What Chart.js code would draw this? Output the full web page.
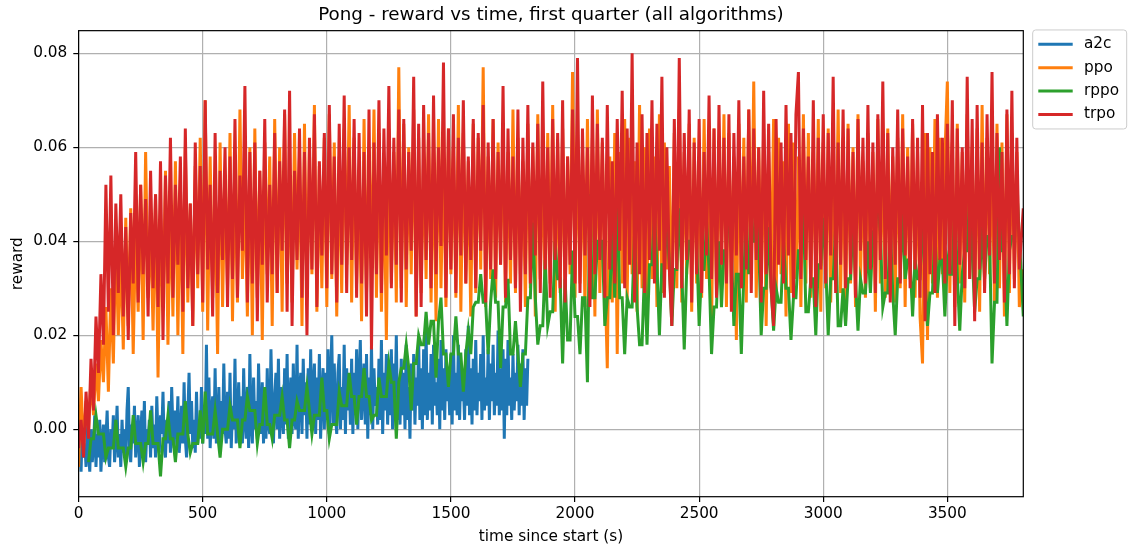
<!DOCTYPE html>
<html>
<head>
<meta charset="utf-8">
<script src="https://cdn.jsdelivr.net/npm/chart.js@4.4.1/dist/chart.umd.min.js"></script>
<style>
  html, body { margin: 0; padding: 0; background: #ffffff; }
  #wrap { width: 1133px; height: 548px; position: relative; }
</style>
</head>
<body>
<div id="wrap"><canvas id="chart"></canvas></div>
<script>
// Sample times (seconds since start) for the ppo, rppo and trpo runs
const timeSec = [
  0,10,20,30,40,50,60,70,80,90,100,110,120,130,140,150,160,170,180,190,
  200,210,220,230,240,250,260,270,280,290,300,310,320,330,340,350,360,370,380,390,
  400,410,420,430,440,450,460,470,480,490,500,510,520,530,540,550,560,570,580,590,
  600,610,620,630,640,650,660,670,680,690,700,710,720,730,740,750,760,770,780,790,
  800,810,820,830,840,850,860,870,880,890,900,910,920,930,940,950,960,970,980,990,
  1000,1010,1020,1030,1040,1050,1060,1070,1080,1090,1100,1110,1120,1130,1140,1150,1160,1170,1180,1190,
  1200,1210,1220,1230,1240,1250,1260,1270,1280,1290,1300,1310,1320,1330,1340,1350,1360,1370,1380,1390,
  1400,1410,1420,1430,1440,1450,1460,1470,1480,1490,1500,1510,1520,1530,1540,1550,1560,1570,1580,1590,
  1600,1610,1620,1630,1640,1650,1660,1670,1680,1690,1700,1710,1720,1730,1740,1750,1760,1770,1780,1790,
  1800,1810,1820,1830,1840,1850,1860,1870,1880,1890,1900,1910,1920,1930,1940,1950,1960,1970,1980,1990,
  2000,2010,2020,2030,2040,2050,2060,2070,2080,2090,2100,2110,2120,2130,2140,2150,2160,2170,2180,2190,
  2200,2210,2220,2230,2240,2250,2260,2270,2280,2290,2300,2310,2320,2330,2340,2350,2360,2370,2380,2390,
  2400,2410,2420,2430,2440,2450,2460,2470,2480,2490,2500,2510,2520,2530,2540,2550,2560,2570,2580,2590,
  2600,2610,2620,2630,2640,2650,2660,2670,2680,2690,2700,2710,2720,2730,2740,2750,2760,2770,2780,2790,
  2800,2810,2820,2830,2840,2850,2860,2870,2880,2890,2900,2910,2920,2930,2940,2950,2960,2970,2980,2990,
  3000,3010,3020,3030,3040,3050,3060,3070,3080,3090,3100,3110,3120,3130,3140,3150,3160,3170,3180,3190,
  3200,3210,3220,3230,3240,3250,3260,3270,3280,3290,3300,3310,3320,3330,3340,3350,3360,3370,3380,3390,
  3400,3410,3420,3430,3440,3450,3460,3470,3480,3490,3500,3510,3520,3530,3540,3550,3560,3570,3580,3590,
  3600,3610,3620,3630,3640,3650,3660,3670,3680,3690,3700,3710,3720,3730,3740,3750,3760,3770,3780,3790,
  3806
];

// Sample times (seconds since start) for the a2c run, logged more often and stopped at 1810 s
const a2cTimeSec = [
  0,5,10,15,20,25,30,35,40,45,50,55,60,65,70,75,80,85,90,95,
  100,105,110,115,120,125,130,135,140,145,150,155,160,165,170,175,180,185,190,195,
  200,205,210,215,220,225,230,235,240,245,250,255,260,265,270,275,280,285,290,295,
  300,305,310,315,320,325,330,335,340,345,350,355,360,365,370,375,380,385,390,395,
  400,405,410,415,420,425,430,435,440,445,450,455,460,465,470,475,480,485,490,495,
  500,505,510,515,520,525,530,535,540,545,550,555,560,565,570,575,580,585,590,595,
  600,605,610,615,620,625,630,635,640,645,650,655,660,665,670,675,680,685,690,695,
  700,705,710,715,720,725,730,735,740,745,750,755,760,765,770,775,780,785,790,795,
  800,805,810,815,820,825,830,835,840,845,850,855,860,865,870,875,880,885,890,895,
  900,905,910,915,920,925,930,935,940,945,950,955,960,965,970,975,980,985,990,995,
  1000,1005,1010,1015,1020,1025,1030,1035,1040,1045,1050,1055,1060,1065,1070,1075,1080,1085,1090,1095,
  1100,1105,1110,1115,1120,1125,1130,1135,1140,1145,1150,1155,1160,1165,1170,1175,1180,1185,1190,1195,
  1200,1205,1210,1215,1220,1225,1230,1235,1240,1245,1250,1255,1260,1265,1270,1275,1280,1285,1290,1295,
  1300,1305,1310,1315,1320,1325,1330,1335,1340,1345,1350,1355,1360,1365,1370,1375,1380,1385,1390,1395,
  1400,1405,1410,1415,1420,1425,1430,1435,1440,1445,1450,1455,1460,1465,1470,1475,1480,1485,1490,1495,
  1500,1505,1510,1515,1520,1525,1530,1535,1540,1545,1550,1555,1560,1565,1570,1575,1580,1585,1590,1595,
  1600,1605,1610,1615,1620,1625,1630,1635,1640,1645,1650,1655,1660,1665,1670,1675,1680,1685,1690,1695,
  1700,1705,1710,1715,1720,1725,1730,1735,1740,1745,1750,1755,1760,1765,1770,1775,1780,1785,1790,1795,
  1800,1805,1810
];

// a2c reward
const a2cReward = [
  -0.008,-0.002,-0.009,0.001,-0.006,-0.003,-0.008,0.002,-0.005,-0.009,
  0,-0.007,-0.004,0.003,-0.008,-0.001,-0.006,0.002,-0.009,-0.003,
  0.001,-0.007,-0.002,0.004,-0.006,-0.008,0,-0.004,0.003,-0.007,
  -0.002,0.005,-0.006,-0.001,-0.008,0.002,-0.005,0,-0.007,0.004,
  0.009,-0.004,-0.007,0.001,-0.003,0.005,-0.006,-0.002,0.003,-0.008,
  -0.001,0.004,-0.005,0.006,-0.007,0,-0.003,0.002,-0.006,0.005,
  -0.004,0.001,-0.006,0.007,-0.002,-0.005,0.003,-0.001,0.008,-0.004,
  -0.006,0.002,-0.003,0.006,-0.005,0.009,0,-0.004,0.004,-0.002,
  0.007,-0.005,-0.001,0.005,-0.003,0.01,-0.002,-0.006,0.003,0.012,
  -0.001,0.006,-0.004,0.002,-0.005,0.008,-0.003,0.001,-0.002,0.009,
  -0.003,0.005,-0.001,0.018,-0.002,0.011,-0.004,0.003,0.007,-0.002,
  0.013,-0.003,0.001,0.009,-0.004,0.006,-0.001,0.014,0,-0.003,
  0.008,-0.002,0.012,-0.004,0.005,0,0.015,-0.003,0.003,0.01,
  -0.001,0.007,-0.003,0.013,0.002,-0.002,0.009,-0.004,0.016,0.001,
  -0.003,0.011,0,0.006,-0.002,0.014,0.003,-0.001,0.01,-0.003,
  0.008,-0.002,0.013,0.001,-0.001,0.017,0.004,-0.003,0.007,0.012,
  0,0.015,-0.002,0.009,0.003,-0.001,0.013,0.001,0.016,-0.002,
  0.006,0.011,-0.001,0.014,0.002,0,0.018,-0.002,0.008,0.012,
  -0.001,0.015,0.003,0.01,-0.002,0.013,0.001,0.017,0,0.009,
  0.014,-0.001,0.011,0.002,0.016,-0.002,0.007,0.013,0,0.012,
  0.002,0.017,-0.001,0.01,0.02,0.001,0.014,0.003,-0.001,0.012,
  0.016,0,0.009,0.002,0.018,-0.001,0.013,0.004,0.011,0.001,
  0.015,-0.001,0.012,0.003,0.017,0,0.01,0.019,0.002,0.008,
  0.014,0.001,0.016,-0.002,0.011,0.003,0.018,0,0.013,0.005,
  0.009,0.001,0.015,0.002,0.019,-0.001,0.012,0.004,0.016,0.001,
  0.011,0.003,0.017,0,0.014,0.005,0.02,0.002,0.01,0.001,
  0.015,0.003,0.012,0,0.018,0.002,0.009,-0.002,0.014,0.004,
  0.016,0.001,0.011,0.005,0.019,0.002,0.013,0,0.017,0.003,
  0.021,0.002,0.012,0.004,0.016,0.001,0.018,0.005,0.01,0.003,
  0.015,0,0.019,0.004,0.013,0.002,0.017,0.006,0.011,0.003,
  0.016,0.001,0.02,0.004,0.012,0.003,0.018,0.002,0.014,0.006,
  0.01,0.002,0.017,0.005,0.022,0.003,0.013,0.001,0.015,0.004,
  0.019,0.003,0.012,0.006,0.016,0.002,0.02,0.004,0.011,0.005,
  0.017,0.002,0.014,0.006,0.018,0.003,0.012,0.005,0.021,0.003,
  0.013,0.004,0.017,-0.002,0.015,0.003,0.019,0.005,0.011,0.002,
  0.016,0.004,0.012,0.006,0.018,0.003,0.014,0.005,0.017,0.002,
  0.013,0.005,0.015
];

// ppo reward
const ppoReward = [
  -0.008,0.009,-0.004,0.006,0,0.011,0.003,0.014,0.006,0.019,
  0.01,0.026,0.008,0.03,0.014,0.041,0.02,0.038,0.017,0.045,
  0.022,0.047,0.016,0.043,0.025,0.052,0.019,0.059,0.028,0.044,
  0.021,0.05,0.011,0.046,0.026,0.055,0.018,0.049,0.024,0.057,
  0.02,0.053,0.016,0.06,0.027,0.048,0.022,0.056,0.03,0.062,
  0.025,0.07,0.021,0.058,0.028,0.05,0.016,0.061,0.026,0.054,
  0.03,0.063,0.023,0.057,0.027,0.068,0.032,0.052,0.024,0.06,
  0.02,0.064,0.028,0.055,0.019,0.061,0.033,0.058,0.022,0.066,
  0.029,0.06,0.025,0.067,0.031,0.054,0.027,0.063,0.034,0.058,
  0.022,0.065,0.028,0.059,0.033,0.069,0.025,0.056,0.03,0.062,
  0.026,0.067,0.032,0.061,0.024,0.058,0.029,0.064,0.035,0.069,
  0.027,0.062,0.031,0.055,0.023,0.066,0.029,0.06,0.034,0.068,
  0.028,0.063,0.025,0.057,0.019,0.064,0.031,0.059,0.027,0.077,
  0.03,0.065,0.026,0.06,0.033,0.068,0.024,0.062,0.029,0.058,
  0.032,0.067,0.027,0.061,0.023,0.066,0.03,0.059,0.026,0.064,
  0.033,0.06,0.028,0.069,0.025,0.063,0.031,0.057,0.024,0.065,
  0.029,0.062,0.034,0.077,0.026,0.058,0.032,0.066,0.028,0.061,
  0.035,0.064,0.027,0.059,0.031,0.068,0.029,0.062,0.033,0.057,
  0.026,0.065,0.03,0.06,0.024,0.067,0.032,0.058,0.028,0.063,
  0.031,0.069,0.025,0.061,0.029,0.064,0.027,0.058,0.033,0.076,
  0.028,0.063,0.031,0.059,0.026,0.066,0.03,0.062,0.024,0.068,
  0.029,0.061,0.034,0.013,0.058,0.027,0.063,0.016,0.059,0.031,
  0.066,0.028,0.062,0.033,0.057,0.025,0.069,0.03,0.06,0.027,
  0.064,0.032,0.058,0.026,0.067,0.029,0.061,0.034,0.056,0.024,
  0.063,0.03,0.068,0.027,0.059,0.033,0.065,0.025,0.062,0.031,
  0.058,0.028,0.066,0.032,0.061,0.022,0.064,0.029,0.06,0.034,
  0.067,0.026,0.063,0.031,0.058,0.019,0.065,0.03,0.062,0.027,
  0.068,0.033,0.074,0.028,0.06,0.031,0.064,0.022,0.059,0.03,
  0.066,0.027,0.062,0.033,0.057,0.024,0.065,0.029,0.061,0.032,
  0.058,0.026,0.067,0.031,0.063,0.028,0.059,0.034,0.066,0.025,
  0.061,0.03,0.064,0.027,0.058,0.033,0.068,0.029,0.062,0.023,
  0.065,0.031,0.06,0.026,0.067,0.032,0.057,0.028,0.063,0.03,
  0.059,0.025,0.066,0.031,0.061,0.028,0.064,0.033,0.058,0.027,
  0.062,0.03,0.067,0.026,0.06,0.032,0.065,0.028,0.059,0.024,
  0.014,0.063,0.019,0.06,0.031,0.066,0.028,0.062,0.033,0.058,
  0.074,0.029,0.061,0.026,0.065,0.031,0.059,0.027,0.067,0.032,
  0.06,0.028,0.064,0.025,0.069,0.03,0.062,0.033,0.058,0.027,
  0.065,0.03,0.061,0.024,0.067,0.029,0.063,0.032,0.059,0.026,
  0.034
];

// rppo reward (first log at 40 s)
const rppoReward = [
  null,null,null,null,-0.007,-0.002,-0.002,0.003,-0.001,-0.001,
  -0.001,-0.006,-0.004,-0.004,-0.004,0.002,-0.004,-0.004,-0.004,-0.008,
  -0.004,-0.004,0.003,-0.003,-0.003,-0.003,-0.007,-0.003,-0.003,0.004,
  -0.003,-0.003,-0.003,-0.01,-0.002,-0.002,0.003,-0.002,-0.002,-0.007,
  -0.001,-0.001,-0.001,0.006,-0.001,-0.005,-0.003,-0.003,-0.003,0.004,
  -0.003,0.008,-0.001,-0.001,-0.001,0.004,-0.001,-0.006,0,0,
  0,0.005,0.002,0.002,0.002,-0.004,0.002,0.002,0.007,0.004,
  0.004,0.004,-0.003,0.001,0.001,0.009,0.001,0.001,-0.002,0.003,
  0.003,0.003,0.007,0.002,0.002,-0.004,0.002,0.002,0.006,0.004,
  0.004,0.004,0.009,0.004,-0.001,0.003,0.003,0.003,0.011,0.004,
  0.004,-0.002,0.001,0.001,0.001,0.008,0.005,0.005,0.005,0.012,
  0.007,0.007,0.001,0.007,0.007,0.013,0.007,0.007,0.002,0.003,
  0.003,0.011,0.007,0.007,0.007,0.014,0.01,0.01,-0.002,0.01,
  0.013,0.013,0.018,0.013,0.004,0.014,0.014,0.02,0.018,0.018,
  0.025,0.018,0.023,0.023,0.011,0.023,0.028,0.016,0.016,0.009,
  0.016,0.016,0.024,0.016,0.016,0.008,0.016,0.021,0.016,0.026,
  0.027,0.027,0.033,0.027,0.027,0.016,0.027,0.034,0.027,0.027,
  0.013,0.026,0.026,0.032,0.016,0.016,0.023,0.016,0.009,0.016,
  0.016,0.028,0.028,0.044,0.028,0.018,0.022,0.022,0.036,0.022,
  0.025,0.025,0.04,0.032,0.032,0.014,0.032,0.019,0.019,0.038,
  0.024,0.024,0.016,0.028,0.028,0.01,0.05,0.028,0.028,0.04,
  0.04,0.04,0.022,0.028,0.028,0.043,0.028,0.05,0.028,0.028,
  0.016,0.028,0.026,0.026,0.042,0.026,0.018,0.018,0.034,0.018,
  0.035,0.035,0.046,0.035,0.02,0.035,0.035,0.045,0.035,0.022,
  0.034,0.034,0.047,0.034,0.017,0.034,0.04,0.04,0.05,0.04,
  0.022,0.034,0.034,0.044,0.034,0.016,0.026,0.026,0.04,0.026,
  0.038,0.038,0.048,0.038,0.022,0.033,0.033,0.016,0.033,0.045,
  0.033,0.04,0.04,0.049,0.04,0.02,0.03,0.03,0.043,0.03,
  0.021,0.03,0.027,0.027,0.04,0.03,0.03,0.019,0.028,0.028,
  0.038,0.038,0.048,0.025,0.025,0.032,0.032,0.02,0.035,0.035,
  0.045,0.035,0.02,0.032,0.032,0.043,0.022,0.022,0.03,0.022,
  0.032,0.032,0.045,0.032,0.021,0.032,0.029,0.029,0.04,0.029,
  0.042,0.042,0.05,0.042,0.026,0.029,0.029,0.044,0.029,0.02,
  0.032,0.032,0.047,0.032,0.036,0.036,0.024,0.036,0.032,0.032,
  0.046,0.032,0.022,0.029,0.029,0.042,0.029,0.036,0.036,0.024,
  0.036,0.033,0.033,0.048,0.033,0.021,0.033,0.038,0.038,0.05,
  0.038,0.025,0.032,0.032,0.043,0.032,0.041,0.041,0.014,0.027,
  0.027,0.06,0.038,0.038,0.022,0.038,0.041,0.041,0.051,0.041,
  0.024
];

// trpo reward
const trpoReward = [
  -0.004,0.002,-0.006,0.008,-0.002,0.015,0.004,0.024,0.012,0.033,
  0.018,0.052,0.025,0.054,0.02,0.048,0.029,0.05,0.024,0.043,
  0.019,0.046,0.031,0.059,0.027,0.052,0.033,0.049,0.024,0.055,
  0.03,0.05,0.026,0.057,0.019,0.054,0.031,0.062,0.028,0.052,
  0.035,0.058,0.025,0.064,0.03,0.048,0.022,0.061,0.033,0.056,
  0.027,0.07,0.034,0.052,0.024,0.063,0.029,0.055,0.036,0.06,
  0.026,0.058,0.032,0.066,0.028,0.054,0.038,0.073,0.027,0.059,
  0.031,0.061,0.023,0.055,0.035,0.066,0.027,0.052,0.033,0.063,
  0.029,0.057,0.038,0.068,0.025,0.072,0.022,0.055,0.036,0.064,
  0.028,0.059,0.02,0.062,0.034,0.067,0.026,0.057,0.037,0.063,
  0.03,0.069,0.033,0.058,0.027,0.065,0.035,0.071,0.029,0.06,
  0.036,0.066,0.028,0.063,0.031,0.059,0.024,0.068,0.017,0.061,
  0.033,0.07,0.029,0.064,0.037,0.073,0.03,0.062,0.035,0.068,
  0.027,0.066,0.034,0.059,0.038,0.075,0.024,0.065,0.026,0.069,
  0.036,0.063,0.03,0.071,0.033,0.06,0.039,0.078,0.028,0.064,
  0.034,0.067,0.029,0.062,0.037,0.07,0.031,0.058,0.036,0.066,
  0.03,0.063,0.038,0.069,0.027,0.061,0.034,0.066,0.032,0.059,
  0.035,0.073,0.028,0.064,0.036,0.058,0.03,0.068,0.025,0.062,
  0.033,0.069,0.031,0.061,0.037,0.065,0.029,0.074,0.034,0.06,
  0.028,0.066,0.036,0.063,0.03,0.07,0.027,0.058,0.035,0.068,
  0.031,0.079,0.029,0.064,0.037,0.06,0.026,0.071,0.033,0.065,
  0.036,0.062,0.028,0.069,0.034,0.057,0.031,0.066,0.038,0.072,
  0.03,0.064,0.035,0.08,0.027,0.061,0.033,0.067,0.029,0.063,
  0.036,0.07,0.031,0.065,0.038,0.075,0.028,0.06,0.034,0.022,
  0.066,0.034,0.079,0.03,0.063,0.036,0.068,0.027,0.061,0.033,
  0.066,0.029,0.059,0.037,0.071,0.032,0.064,0.028,0.069,0.035,
  0.062,0.031,0.067,0.025,0.063,0.037,0.07,0.03,0.058,0.034,
  0.068,0.029,0.064,0.036,0.06,0.027,0.072,0.033,0.065,0.03,
  0.022,0.066,0.035,0.061,0.031,0.069,0.037,0.063,0.028,0.067,
  0.076,0.032,0.064,0.036,0.058,0.03,0.07,0.026,0.062,0.034,
  0.067,0.031,0.063,0.037,0.075,0.029,0.061,0.035,0.068,0.03,
  0.064,0.033,0.059,0.028,0.066,0.038,0.062,0.031,0.069,0.034,
  0.061,0.029,0.067,0.036,0.074,0.032,0.063,0.027,0.06,0.035,
  0.068,0.031,0.064,0.037,0.058,0.03,0.066,0.034,0.062,0.028,
  0.069,0.023,0.063,0.033,0.059,0.029,0.067,0.036,0.062,0.031,
  0.065,0.033,0.07,0.022,0.064,0.035,0.06,0.03,0.075,0.032,
  0.066,0.023,0.069,0.034,0.061,0.029,0.067,0.037,0.076,0.031,
  0.063,0.036,0.059,0.027,0.068,0.033,0.072,0.03,0.062,0.034,
  0.047
];

const seriesNames = ['a2c', 'ppo', 'rppo', 'trpo'];
const seriesColors = ['#1f77b4', '#ff7f0e', '#2ca02c', '#d62728'];
const xTickValues = [0, 500, 1000, 1500, 2000, 2500, 3000, 3500];
const yTickValues = [0, 0.02, 0.04, 0.06, 0.08];

const FONT = "'DejaVu Sans', 'Liberation Sans', sans-serif";
const TICK_SIZE = 15.3;

function toPoints(times, values) {
  return values
    .map((v, i) => ({ x: times[i], y: v }))
    .filter(p => p.y !== null);
}

const seriesPoints = [
  toPoints(a2cTimeSec, a2cReward),
  toPoints(timeSec, ppoReward),
  toPoints(timeSec, rppoReward),
  toPoints(timeSec, trpoReward)
];

// Later series are painted over earlier ones (trpo on top)
const datasets = seriesNames.map((name, i) => ({
  label: name,
  data: seriesPoints[i],
  borderColor: seriesColors[i],
  backgroundColor: seriesColors[i],
  borderWidth: 3,
  pointRadius: 0,
  tension: 0,
  fill: false,
  clip: 0,
  order: seriesNames.length - 1 - i
}));

// Full box around the plotting area
const axesFrame = {
  id: 'axesFrame',
  afterDatasetsDraw(chart) {
    const { ctx, chartArea: a } = chart;
    ctx.save();
    ctx.strokeStyle = '#000000';
    ctx.lineWidth = 1.2;
    ctx.strokeRect(a.left, a.top, a.right - a.left, a.bottom - a.top);
    ctx.restore();
  }
};

// Framed legend placed to the right of the plotting area
const sideLegend = {
  id: 'sideLegend',
  afterDraw(chart) {
    const { ctx, chartArea: a } = chart;
    const left = a.right + 9.4;
    const top = a.top - 0.7;
    const w = 94, h = 99, r = 3;
    ctx.save();
    ctx.beginPath();
    ctx.moveTo(left + r, top);
    ctx.lineTo(left + w - r, top);
    ctx.arcTo(left + w, top, left + w, top + r, r);
    ctx.lineTo(left + w, top + h - r);
    ctx.arcTo(left + w, top + h, left + w - r, top + h, r);
    ctx.lineTo(left + r, top + h);
    ctx.arcTo(left, top + h, left, top + h - r, r);
    ctx.lineTo(left, top + r);
    ctx.arcTo(left, top, left + r, top, r);
    ctx.closePath();
    ctx.fillStyle = 'rgba(255,255,255,0.8)';
    ctx.fill();
    ctx.strokeStyle = '#cccccc';
    ctx.lineWidth = 1;
    ctx.stroke();

    ctx.font = TICK_SIZE + 'px ' + FONT;
    ctx.textBaseline = 'middle';
    ctx.textAlign = 'left';
    chart.data.datasets.forEach((ds, i) => {
      const y = top + 14.3 + i * 23.4;
      ctx.beginPath();
      ctx.moveTo(left + 5.6, y);
      ctx.lineTo(left + 40, y);
      ctx.strokeStyle = ds.borderColor;
      ctx.lineWidth = 3;
      ctx.stroke();
      ctx.fillStyle = '#000000';
      ctx.fillText(ds.label, left + 51.3, y);
    });
    ctx.restore();
  }
};

new Chart(document.getElementById('chart'), {
  type: 'line',
  data: { datasets },
  plugins: [axesFrame, sideLegend],
  options: {
    responsive: true,
    maintainAspectRatio: false,
    animation: false,
    devicePixelRatio: 1,
    layout: { padding: { left: 0, right: 109.7, top: 0, bottom: 0 } },
    plugins: {
      legend: { display: false },
      tooltip: { enabled: false },
      title: {
        display: true,
        text: 'Pong - reward vs time, first quarter (all algorithms)',
        color: '#000000',
        fullSize: false,
        font: { family: FONT, size: 18.3, weight: 'normal', lineHeight: 1.2 },
        padding: { top: 4.4, bottom: 4.3 }
      }
    },
    scales: {
      x: {
        type: 'linear',
        min: 0,
        max: 3806,
        afterBuildTicks: s => { s.ticks = xTickValues.map(v => ({ value: v })); },
        afterFit: s => { s.height = 51.3; },
        border: { display: false },
        grid: { color: '#b0b0b0', lineWidth: 1.2, drawTicks: true, tickLength: 5.3, tickColor: '#000000', tickWidth: 1.2 },
        ticks: {
          color: '#000000', autoSkip: false, maxRotation: 0, padding: 3,
          font: { family: FONT, size: TICK_SIZE },
          callback: v => String(v)
        },
        title: {
          display: true, text: 'time since start (s)', color: '#000000',
          font: { family: FONT, size: TICK_SIZE }, padding: { top: 0, bottom: 2 }
        }
      },
      y: {
        type: 'linear',
        min: -0.01434,
        max: 0.0848,
        afterBuildTicks: s => { s.ticks = yTickValues.map(v => ({ value: v })); },
        afterFit: s => { s.width = 78.6; },
        border: { display: false },
        grid: { color: '#b0b0b0', lineWidth: 1.2, drawTicks: true, tickLength: 5.3, tickColor: '#000000', tickWidth: 1.2 },
        ticks: {
          color: '#000000', padding: 6,
          font: { family: FONT, size: TICK_SIZE },
          callback: v => Number(v).toFixed(2)
        },
        title: {
          display: true, text: 'reward', color: '#000000',
          font: { family: FONT, size: TICK_SIZE }, padding: { top: 8.8, bottom: 0 }
        }
      }
    }
  }
});
</script>
</body>
</html>
